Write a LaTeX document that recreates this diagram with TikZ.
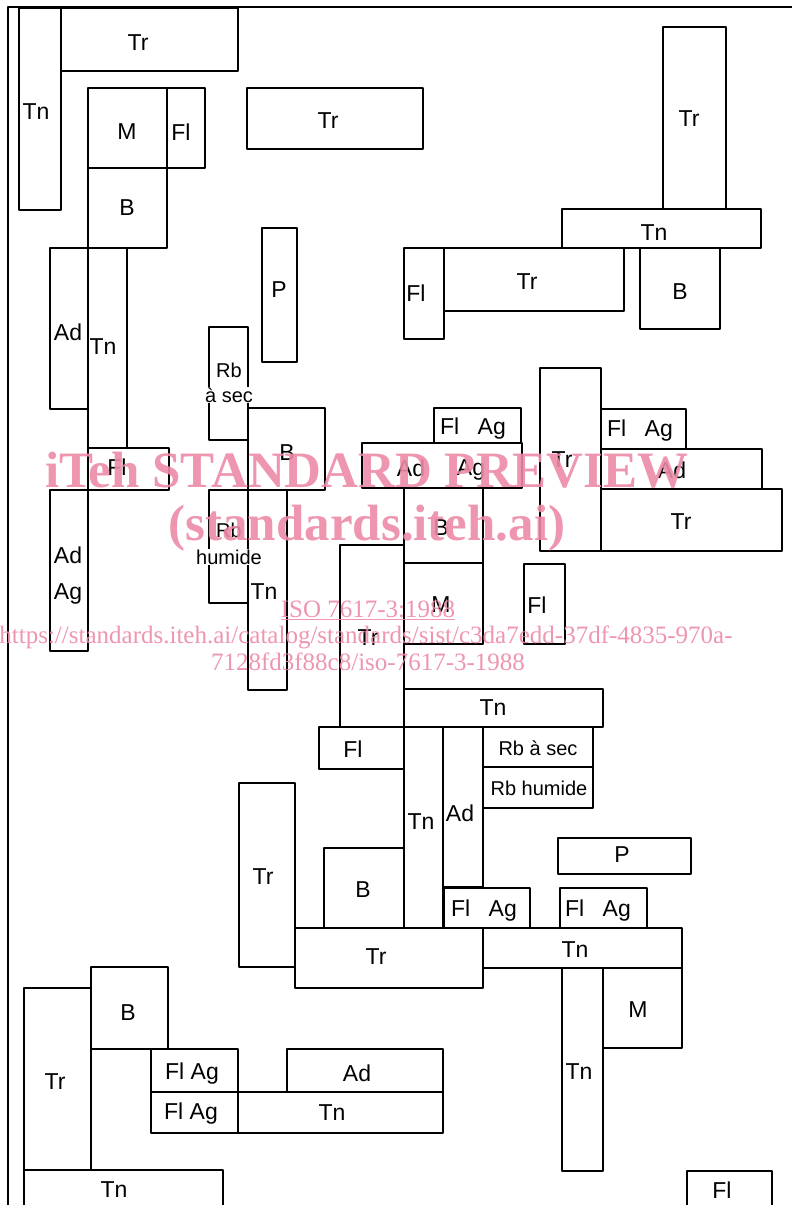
\documentclass[tikz,border=0pt]{standalone}
\usepackage{fontspec}
\setmainfont{Liberation Sans}
\newfontfamily\wmfont{Liberation Serif}
\definecolor{wmpink}{RGB}{236,138,166}
\newcommand{\flag}{Fl\hspace{0.8em}Ag}

\begin{document}
\begin{tikzpicture}[x=1pt, y=-1pt,
    box/.style={line width=2pt, line join=round},
    lbl/.style={font=\fontsize{23}{23}\selectfont, inner sep=1pt},
    sml/.style={font=\fontsize{20}{20}\selectfont, inner sep=1pt},
    gapfill/.style={fill=white},
    wmbig/.style={wmpink, opacity=0.9, anchor=base, inner sep=0pt, font=\wmfont\bfseries\fontsize{51}{51}\selectfont},
    wmline/.style={wmpink, opacity=0.9, anchor=base, inner sep=0pt, font=\wmfont\fontsize{25}{25}\selectfont}]
    \useasboundingbox (0,0) rectangle (792,1205);
    \draw[box] (8,1205) -- (8,7) -- (792,7);

    \draw[box] (19,8) rectangle (61,210);
    \draw[box] (61,8) rectangle (238,71);
    \draw[box] (88,88) rectangle (167,168);
    \draw[box] (167,88) rectangle (205,168);
    \draw[box] (88,168) rectangle (167,248);
    \draw[box] (247,88) rectangle (423,149);
    \draw[box] (262,228) rectangle (297,362);
    \draw[box] (663,27) rectangle (726,209);
    \draw[box] (562,209) rectangle (761,248);
    \draw[box] (404,248) rectangle (444,339);
    \draw[box] (444,248) rectangle (624,311);
    \draw[box] (640,248) rectangle (720,329);
    \draw[box] (50,248) rectangle (88,409);
    \draw[box] (88,248) rectangle (127,448);
    \draw[box] (88,448) rectangle (169,490);
    \draw[box] (50,490) rectangle (88,651);
    \draw[box] (209,327) rectangle (248,440);
    \draw[box] (248,408) rectangle (325,490);
    \draw[box] (209,490) rectangle (248,603);
    \draw[box] (248,490) rectangle (287,690);
    \draw[box] (434,408) rectangle (521,443);
    \draw[box] (362,443) rectangle (522,488);
    \draw[box] (404,488) rectangle (483,563);
    \draw[box] (404,563) rectangle (483,644);
    \draw[box] (540,368) rectangle (601,551);
    \draw[box] (601,409) rectangle (686,449);
    \draw[box] (601,449) rectangle (762,489);
    \draw[box] (601,489) rectangle (782,551);
    \draw[box] (524,564) rectangle (565,644);
    \draw[box] (340,545) rectangle (404,727);
    \draw[box] (404,689) rectangle (603,727);
    \draw[box] (319,727) rectangle (404,769);
    \draw[box] (404,727) rectangle (443,928);
    \draw[box] (443,727) rectangle (483,887);
    \draw[box] (483,727) rectangle (593,767);
    \draw[box] (483,767) rectangle (593,808);
    \draw[box] (558,838) rectangle (691,874);
    \draw[box] (444,888) rectangle (530,928);
    \draw[box] (560,888) rectangle (647,928);
    \draw[box] (239,783) rectangle (295,967);
    \draw[box] (324,848) rectangle (404,928);
    \draw[box] (295,928) rectangle (483,988);
    \draw[box] (483,928) rectangle (682,968);
    \draw[box] (562,968) rectangle (603,1171);
    \draw[box] (603,968) rectangle (682,1048);
    \draw[box] (687,1205) -- (687,1171) -- (772,1171) -- (772,1205);
    \draw[box] (91,967) rectangle (168,1049);
    \draw[box] (24,988) rectangle (91,1170);
    \draw[box] (151,1049) rectangle (238,1092);
    \draw[box] (151,1092) rectangle (238,1133);
    \draw[box] (287,1049) rectangle (443,1092);
    \draw[box] (238,1092) rectangle (443,1133);
    \draw[box] (24,1205) -- (24,1170) -- (223,1170) -- (223,1205);

    \node[lbl] (tnA) at (36,112) {Tn};
    \node[lbl] (trA) at (138,43) {Tr};
    \node[lbl] (mA) at (127,132) {M};
    \node[lbl] (flA) at (181,132) {Fl};
    \node[lbl] (bA) at (127,208) {B};
    \node[lbl] (trB) at (328,121) {Tr};
    \node[lbl] (pA) at (279,290) {P};
    \node[lbl] (trC) at (689,119) {Tr};
    \node[lbl] (tnB) at (654,233) {Tn};
    \node[lbl] (flB) at (416,293) {Fl};
    \node[lbl] (trD) at (527,282) {Tr};
    \node[lbl] (bB) at (680,292) {B};
    \node[lbl] (adA) at (68,332) {Ad};
    \node[lbl] (tnC) at (103,347) {Tn};
    \node[sml] (rbA) at (229,370) {Rb};
    \node[sml, gapfill] (secA) at (229,395) {à sec};
    \node[lbl] (bC) at (287,453) {B};
    \node[lbl] (flC) at (117,467) {Fl};
    \node[lbl] (flagA) at (473,429) {\flag};
    \node[lbl] (adB) at (411,468) {Ad};
    \node[lbl] (agB) at (471,470) {Ag};
    \node[lbl] (trE) at (562,460) {Tr};
    \node[lbl] (flagB) at (640,431) {\flag};
    \node[lbl] (adC) at (672,470) {Ad};
    \node[lbl] (trF) at (681,522) {Tr};
    \node[lbl] (adD) at (68,555) {Ad};
    \node[lbl] (agD) at (68,594) {Ag};
    \node[sml] (rbB) at (229,530) {Rb};
    \node[sml, gapfill] (humB) at (229,557) {humide};
    \node[lbl] (tnD) at (264,592) {Tn};
    \node[lbl] (bD) at (441,528) {B};
    \node[lbl] (mB) at (441,605) {M};
    \node[lbl] (flD) at (537,605) {Fl};
    \node[lbl] (trG) at (368,638) {Tr};
    \node[lbl] (tnE) at (493,708) {Tn};
    \node[lbl] (flE) at (353,749) {Fl};
    \node[sml] (rbC) at (538,748) {Rb à sec};
    \node[sml] (rbD) at (539,788) {Rb humide};
    \node[lbl] (tnF) at (421,822) {Tn};
    \node[lbl] (adE) at (460,813) {Ad};
    \node[lbl] (pB) at (622,855) {P};
    \node[lbl] (trH) at (263,877) {Tr};
    \node[lbl] (bE) at (363,890) {B};
    \node[lbl] (flagC) at (484,911) {\flag};
    \node[lbl] (flagD) at (598,911) {\flag};
    \node[lbl] (trI) at (376,957) {Tr};
    \node[lbl] (tnG) at (575,950) {Tn};
    \node[lbl] (mC) at (638,1010) {M};
    \node[lbl] (tnH) at (579,1072) {Tn};
    \node[lbl] (bF) at (128,1013) {B};
    \node[lbl] (trJ) at (55,1082) {Tr};
    \node[lbl] (flagE) at (192,1074) {Fl Ag};
    \node[lbl] (flagF) at (191,1114) {Fl Ag};
    \node[lbl] (adF) at (357,1073) {Ad};
    \node[lbl] (tnI) at (332,1113) {Tn};
    \node[lbl] (tnJ) at (114,1190) {Tn};
    \node[lbl] (flF) at (722,1190) {Fl};

    \node[wmbig] (wmA) at (367,487) {iTeh STANDARD PREVIEW};
    \node[wmbig] (wmB) at (367,540) {(standards.iteh.ai)};
    \node[wmline] (wmC) at (368,617) {\underline{ISO 7617-3:1988}};
    \node[wmline] (wmD) at (366,643) {https://standards.iteh.ai/catalog/standards/sist/c3da7edd-37df-4835-970a-};
    \node[wmline] (wmE) at (368,670) {7128fd3f88c8/iso-7617-3-1988};
\end{tikzpicture}
\end{document}
